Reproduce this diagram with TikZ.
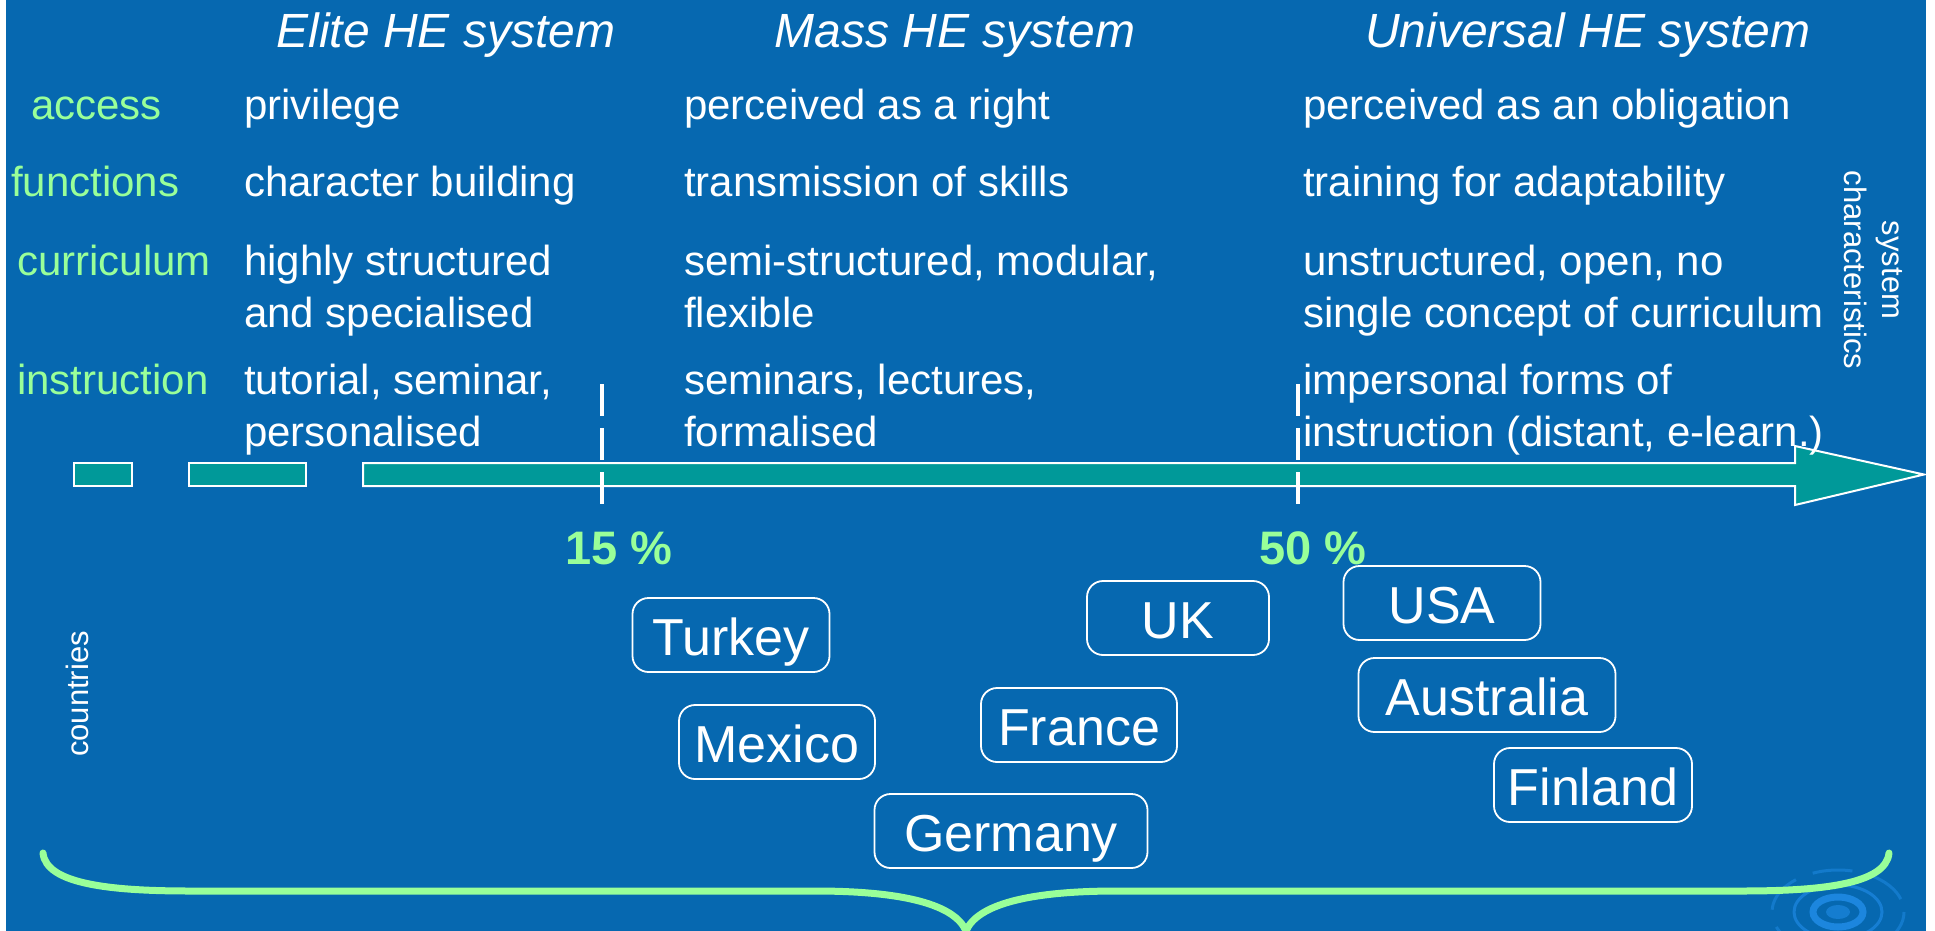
\documentclass[tikz,border=0pt]{standalone}
\usepackage{fontspec}
\setmainfont{Liberation Sans}
\definecolor{bg}{RGB}{6,104,176}
\definecolor{tealbar}{RGB}{0,153,153}
\definecolor{lgreen}{RGB}{153,255,153}
\definecolor{ripple}{RGB}{28,134,222}
\newcommand\twoln[2]{\vtop{\baselineskip=52pt\hbox{#1}\hbox{#2}}}
\tikzset{
  body/.style={anchor=base west, inner sep=0pt, text=white, font=\fontsize{42}{52}\selectfont},
  lbl/.style={body, text=lgreen},
  hdr/.style={anchor=base, inner sep=0pt, text=white, font=\fontsize{48}{58}\selectfont\itshape},
  pct/.style={anchor=base, inner sep=0pt, text=lgreen, font=\fontsize{47}{56}\selectfont\bfseries},
  country/.style={draw=white, line width=1.8pt, rounded corners=16pt, text=white,
    font=\fontsize{52}{62}\selectfont, inner sep=0pt, minimum height=74pt,
    text height=48pt, text depth=8pt},
  vlbl/.style={text=white, font=\fontsize{31}{38}\selectfont, align=center, inner sep=0pt},
  bar/.style={fill=tealbar, draw=white, line width=2pt},
  tick/.style={draw=white, line width=4pt, dash pattern=on 32pt off 12pt},
  brace/.style={draw=lgreen, line width=7pt, line cap=round},
}
\begin{document}
\begin{tikzpicture}[x=1pt, y=-1pt]
\useasboundingbox (0,0) rectangle (1935,931);
\fill[white] (0,0) rectangle (1935,931);
\fill[bg] (6,0) rectangle (1926,931);

% ripple decoration
\begin{scope}
\clip (6,0) rectangle (1926,931);
\fill[ripple!70!bg] (1838,912) ellipse (12 and 7);
\draw[ripple, line width=7pt] (1838,912) ellipse (25 and 15);
\draw[ripple!75!bg, line width=3pt] (1838,912) ellipse (44 and 27);
\draw[ripple!60!bg, line width=3pt, dash pattern=on 40pt off 18pt] (1838,912) ellipse (66 and 42);
\end{scope}

% arrow
\path[bar] (74,463) rectangle (132,486);
\path[bar] (189,463) rectangle (306,486);
\path[bar] (363,463) -- (1795,463) -- (1795,446) -- (1924,474.5) -- (1795,505) -- (1795,486) -- (363,486) -- cycle;

% dashed markers
\coordinate (t15a) at (602,384);
\coordinate (t15b) at (602,504);
\coordinate (t50a) at (1298,384);
\coordinate (t50b) at (1298,504);
\draw[tick] (t15a) -- (t15b);
\draw[tick] (t50a) -- (t50b);

% headers
\node[hdr] (h1) at (446,48) {Elite HE system};
\node[hdr] (h2) at (955,48) {Mass HE system};
\node[hdr] (h3) at (1588,48) {Universal HE system};

% row labels
\node[lbl] (l1) at (31,120) {access};
\node[lbl] (l2) at (11,196) {functions};
\node[lbl] (l3) at (17,275) {curriculum};
\node[lbl] (l4) at (17,394) {instruction};

% column 1
\node[body] (a1) at (244,120) {privilege};
\node[body] (a2) at (244,196) {character building};
\node[body] (a3) at (244,275) {\twoln{highly structured}{and specialised}};
\node[body] (a4) at (244,394) {\twoln{tutorial, seminar,}{personalised}};

% column 2
\node[body] (b1) at (684,120) {perceived as a right};
\node[body] (b2) at (684,196) {transmission of skills};
\node[body] (b3) at (684,275) {\twoln{semi-structured, modular,}{flexible}};
\node[body] (b4) at (684,394) {\twoln{seminars, lectures,}{formalised}};

% column 3
\node[body] (c1) at (1303,120) {perceived as an obligation};
\node[body] (c2) at (1303,196) {training for adaptability};
\node[body] (c3) at (1303,275) {\twoln{unstructured, open, no}{single concept of curriculum}};
\node[body] (c4) at (1303,394) {\twoln{impersonal forms of}{instruction (distant, e-learn.)}};

% side labels
\node[vlbl, rotate=-90] (sys) at (1873,270) {system\\characteristics};
\node[vlbl, rotate=90] (ctr) at (77,694) {countries};

% percentages
\node[pct] (p15) at (619,564) {15 \%};
\node[pct] (p50) at (1313,564) {50 \%};

% countries
\node[country, minimum width=197pt] (tur) at (731,635) {Turkey};
\node[country, minimum width=196pt] (mex) at (777,742) {Mexico};
\node[country, minimum width=196pt] (fra) at (1079,725) {France};
\node[country, minimum width=273pt] (ger) at (1011,831) {Germany};
\node[country, minimum width=182pt] (uk) at (1178,618) {UK};
\node[country, minimum width=197pt] (usa) at (1442,603) {USA};
\node[country, minimum width=257pt] (aus) at (1487,695) {Australia};
\node[country, minimum width=198pt] (fin) at (1593,785) {Finland};

% brace
\draw[brace] (43,853) .. controls (46,884) and (110,891) .. (190,891)
  -- (815,891) .. controls (905,891) and (955,905) .. (966,931);
\draw[brace] (966,931) .. controls (977,905) and (1027,891) .. (1117,891)
  -- (1742,891) .. controls (1822,891) and (1886,884) .. (1889,853);
\end{tikzpicture}
\end{document}
